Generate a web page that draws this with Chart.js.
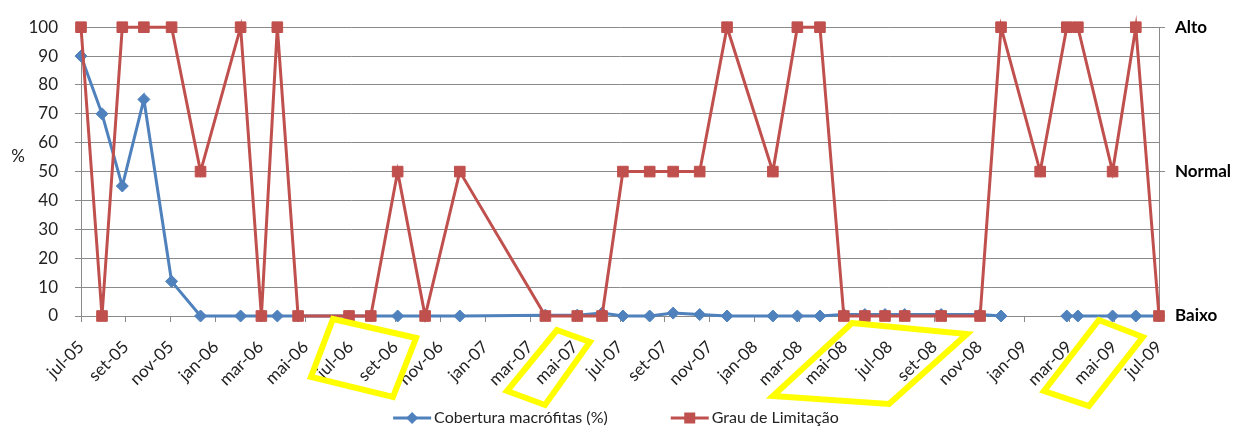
<!DOCTYPE html>
<html>
<head>
<meta charset="utf-8">
<script src="https://cdn.jsdelivr.net/npm/chart.js@4.4.1/dist/chart.umd.min.js"></script>
<style>
  html, body { margin: 0; padding: 0; background: #fff; }
  #wrap { position: relative; width: 1242px; height: 428px; }
</style>
</head>
<body>
<div id="wrap"><canvas id="chart"></canvas></div>
<script>
// sampling dates (shared by both series)
const sampleDates = [
  '2005-07-01', '2005-07-30', '2005-08-27', '2005-09-25', '2005-11-02',
  '2005-12-11', '2006-02-04', '2006-03-02', '2006-03-24', '2006-04-21',
  '2006-06-29', '2006-07-29', '2006-09-04', '2006-10-11', '2006-11-27',
  '2007-03-22', '2007-05-04', '2007-06-07', '2007-07-05', '2007-08-11',
  '2007-09-12', '2007-10-18', '2007-11-24', '2008-01-26', '2008-02-27',
  '2008-03-29', '2008-04-30', '2008-05-29', '2008-06-25', '2008-07-22',
  '2008-09-10', '2008-11-02', '2008-11-30', '2009-01-23', '2009-02-26',
  '2009-03-13', '2009-04-29', '2009-05-31', '2009-07-01'
];
const coberturaValues = [
  90, 70, 45, 75, 12,
  0, 0, 0, 0, 0,
  0, 0, 0, 0, 0,
  0.3, 0.3, 1, 0, 0,
  1, 0.5, 0, 0, 0,
  0, 0.5, 0.5, 0.5, 0.5,
  0.5, 0.5, 0, null, 0,
  0, 0, 0, 0
];
const limitacaoValues = [
  100, 0, 100, 100, 100,
  50, 100, 0, 100, 0,
  0, 0, 50, 0, 50,
  0, 0, 0, 50, 50,
  50, 50, 100, 50, 100,
  100, 0, 0, 0, 0,
  0, 0, 100, 50, 100,
  100, 50, 100, 0
];
const tickLabels = [
  'jul-05', 'set-05', 'nov-05', 'jan-06', 'mar-06', 'mai-06', 'jul-06',
  'set-06', 'nov-06', 'jan-07', 'mar-07', 'mai-07', 'jul-07', 'set-07',
  'nov-07', 'jan-08', 'mar-08', 'mai-08', 'jul-08', 'set-08', 'nov-08',
  'jan-09', 'mar-09', 'mai-09', 'jul-09'
];
const levelLabels = ['Baixo', 'Normal', 'Alto'];

// yellow highlight shapes: [month offset from jul-05, pixels below the x axis]
const highlightBoxes = [
  [[11.22, 3], [14.92, 22], [13.89, 81], [10.24, 61]],
  [[21.19, 14], [22.66, 26], [20.66, 89], [18.97, 75]],
  [[34.33, 7], [39.45, 18], [35.98, 88], [30.81, 80]],
  [[45.32, 4], [47.28, 21], [44.88, 90], [42.88, 75]]
];

const FONT = 'Lato, "Open Sans", sans-serif';
const BLUE = '#4F81BD';
const RED = '#C0504D';
const GRID = '#8a8a8a';

function monthsSinceStart(iso) {
  const [y, m, d] = iso.split('-').map(Number);
  const days = new Date(Date.UTC(y, m, 0)).getUTCDate();
  return (y - 2005) * 12 + (m - 7) + (d - 1) / days;
}

const xs = sampleDates.map(monthsSinceStart);
const toPoints = vals => vals.map((v, i) => ({ x: xs[i], y: v }));

const percentLabel = {
  id: 'percentLabel',
  afterDraw(chart) {
    const ctx = chart.ctx;
    ctx.save();
    ctx.font = '17px ' + FONT;
    ctx.fillStyle = '#222';
    ctx.textAlign = 'center';
    ctx.textBaseline = 'middle';
    ctx.fillText('%', 18, 157);
    ctx.restore();
  }
};

function drawMarker(ctx, style, x, y, color) {
  ctx.fillStyle = color;
  ctx.beginPath();
  if (style === 'rectRot') {
    ctx.moveTo(x - 6, y); ctx.lineTo(x, y - 6); ctx.lineTo(x + 6, y); ctx.lineTo(x, y + 6);
    ctx.closePath();
  } else {
    ctx.rect(x - 5.5, y - 5.5, 11, 11);
  }
  ctx.fill();
}

const excelLegend = {
  id: 'excelLegend',
  afterDraw(chart) {
    const ctx = chart.ctx;
    ctx.save();
    ctx.font = '16px ' + FONT;
    ctx.textBaseline = 'middle';
    const lineLen = 38, gap = 3, between = 63;
    const items = chart.data.datasets.map(ds => ({
      ds, w: lineLen + gap + ctx.measureText(ds.label).width
    }));
    const total = items.reduce((s, it) => s + it.w, 0) + between * (items.length - 1);
    let x = chart.width / 2 - 5 - total / 2;
    const y = 418;
    items.forEach(({ ds, w }) => {
      ctx.strokeStyle = ds.borderColor;
      ctx.lineWidth = 3;
      ctx.beginPath();
      ctx.moveTo(x, y);
      ctx.lineTo(x + lineLen, y);
      ctx.stroke();
      drawMarker(ctx, ds.pointStyle, x + lineLen / 2, y, ds.borderColor);
      ctx.fillStyle = '#222';
      ctx.fillText(ds.label, x + lineLen + gap, y);
      x += w + between;
    });
    ctx.restore();
  }
};

const highlights = {
  id: 'highlights',
  afterDraw(chart) {
    const ctx = chart.ctx;
    const xScale = chart.scales.x;
    const base = chart.chartArea.bottom;
    ctx.save();
    ctx.strokeStyle = '#FFFF00';
    ctx.lineWidth = 6;
    ctx.lineJoin = 'miter';
    highlightBoxes.forEach(box => {
      ctx.beginPath();
      box.forEach(([m, off], i) => {
        const px = xScale.getPixelForValue(m);
        const py = base + off;
        if (i === 0) ctx.moveTo(px, py); else ctx.lineTo(px, py);
      });
      ctx.closePath();
      ctx.stroke();
    });
    ctx.restore();
  }
};

new Chart(document.getElementById('chart'), {
  type: 'line',
  data: {
    datasets: [{
      label: 'Cobertura macrófitas (%)',
      data: toPoints(coberturaValues),
      borderColor: BLUE,
      backgroundColor: BLUE,
      borderWidth: 3,
      pointStyle: 'rectRot',
      pointRadius: 6,
      pointBorderWidth: 1,
      pointBackgroundColor: BLUE,
      spanGaps: false,
      tension: 0,
      clip: false,
      order: 1,
      yAxisID: 'y'
    }, {
      label: 'Grau de Limitação',
      data: toPoints(limitacaoValues),
      borderColor: RED,
      backgroundColor: RED,
      borderWidth: 3,
      pointStyle: 'rect',
      pointRadius: 7.5,
      pointBorderWidth: 1,
      pointBackgroundColor: RED,
      tension: 0,
      clip: false,
      order: 0,
      yAxisID: 'y2'
    }]
  },
  options: {
    responsive: true,
    maintainAspectRatio: false,
    animation: false,
    layout: { padding: { top: 22, left: 0, right: 0, bottom: 0 } },
    plugins: {
      legend: { display: false },
      tooltip: { enabled: false }
    },
    scales: {
      x: {
        type: 'linear',
        min: 0,
        max: 48,
        afterFit: s => { s.height = 112; },
        ticks: {
          stepSize: 2,
          autoSkip: false,
          maxRotation: 45,
          minRotation: 45,
          padding: 15,
          color: '#222',
          font: { family: FONT, size: 17 },
          callback: v => tickLabels[Math.round(v / 2)]
        },
        grid: { drawOnChartArea: false, tickLength: 6, color: GRID },
        border: { color: GRID }
      },
      y: {
        position: 'left',
        min: 0,
        max: 100,
        afterFit: s => { s.width = 81; },
        ticks: {
          stepSize: 10,
          padding: 17,
          color: '#222',
          font: { family: FONT, size: 17 }
        },
        grid: { color: GRID, tickLength: 6 },
        border: { color: GRID }
      },
      y2: {
        position: 'right',
        min: 0,
        max: 100,
        afterFit: s => { s.width = 83; },
        ticks: {
          stepSize: 50,
          padding: 10,
          color: '#000',
          font: { family: FONT, size: 17, weight: 'bold' },
          callback: v => levelLabels[Math.round(v / 50)]
        },
        grid: { drawOnChartArea: false, tickLength: 6, color: GRID },
        border: { color: GRID }
      }
    }
  },
  plugins: [percentLabel, excelLegend, highlights]
});
</script>
</body>
</html>
